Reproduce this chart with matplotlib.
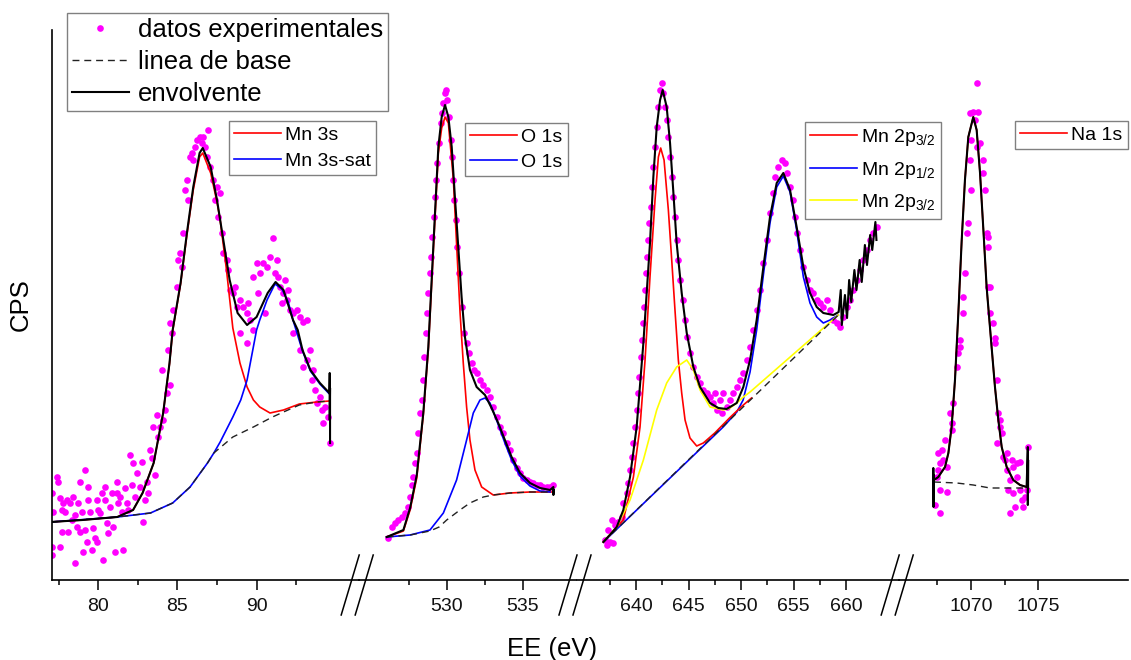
import matplotlib
matplotlib.use('Agg')
import matplotlib.pyplot as plt
from matplotlib.lines import Line2D

plt.rcParams['font.family'] = ['Liberation Sans', 'DejaVu Sans']
plt.rcParams['mathtext.default'] = 'regular'

# ---------------- data (EE in eV, CPS in arbitrary units) ----------------
# Segment 1 : Mn 3s
mn3s_dots = [(77.06,87),(77.16,68),(77.06,33),(77.06,25),(77.37,103),(77.48,98),(77.58,82),(77.69,70),(77.69,48),(77.58,33),
             (77.79,77),(77.90,68),(78.0,80),(78.11,48),(78.21,77),(78.32,60),(78.42,83),(78.53,65),(78.53,17),(78.63,53),
             (78.74,77),(78.85,98),(78.85,48),(78.95,68),(79.06,28),(79.16,110),(79.16,50),(79.27,38),(79.37,93),(79.37,80),
             (79.48,68),(79.58,30),(79.69,52),(79.79,42),(79.90,80),(79.90,38),(80.0,70),(80.11,67),(80.22,87),(80.32,20),
             (80.43,80),(80.43,93),(80.53,57),(80.64,47),(80.74,73),(80.85,87),(80.95,53),(81.06,28),(81.16,98),(81.16,87),
             (81.27,77),(81.37,83),(81.48,68),(81.58,30),(81.69,92),(81.79,77),(81.90,70),(82.0,125),(82.11,95),(82.21,117),
             (82.32,83),(82.42,107),(82.63,93),(82.74,118),(82.85,58),(82.95,80),(83.06,98),(83.16,87),(83.27,130),(83.37,122),
             (83.48,153),(83.58,105),(83.69,165),(83.79,143),(83.90,153),(84.0,210),(84.11,160),(84.21,170),(84.32,187),(84.43,230),
             (84.53,195),(84.64,247),(84.53,257),(84.74,270),(84.95,293),(85.06,320),(85.16,327),(85.27,313),(85.37,347),(85.48,390),
             (85.58,400),(85.69,380),(85.79,423),(85.90,427),(86.0,420),(86.11,433),(86.21,440),(86.42,443),(86.53,437),(86.63,443),
             (86.74,433),(86.95,450),(86.84,423),(87.06,413),(87.27,400),(87.48,393),(87.37,380),(87.58,363),(87.69,387),(87.79,347),
             (87.90,327),(88.11,320),(88.22,310),(88.32,290),(88.53,287),(88.64,293),(88.74,273),(88.95,280),(89.16,273),(89.37,267),
             (89.48,277),(89.58,260),(89.79,303),(90.0,317),(90.11,287),(90.21,307),(90.42,317),(90.53,267),(90.63,313),(90.85,323),
             (91.06,342),(91.16,307),(91.27,320),(91.37,303),(91.48,293),(91.58,277),(91.69,287),(91.79,300),(91.90,280),(92.0,290),
             (92.11,270),(92.32,267),(92.53,270),(92.74,263),(92.95,258),(93.16,260),(92.32,247),(92.74,230),(92.95,213),(93.16,220),
             (93.37,230),(93.48,200),(93.58,210),(93.69,190),(93.79,177),(94.0,183),(94.11,170),(94.21,157),(94.32,173),(94.53,163),
             (94.64,137),(88.95,247),(89.37,237),(89.79,250)]
mn3s_envelope = [(77.0,58),(79.0,60),(81.2,63),(82.2,70),(82.8,87),(83.5,117),(84.1,167),(84.5,217),(84.7,250),(85.2,297),
                 (85.6,347),(86.0,393),(86.4,427),(86.6,432),(87.1,413),(87.5,380),(87.9,340),(88.3,300),(88.8,267),(89.4,255),
                 (90.0,263),(90.7,287),(91.2,298),(91.7,290),(92.3,260),(92.6,250),(92.9,230),(93.4,210),(94.0,197),(94.6,187),
                 (94.62,207),(94.62,160),(94.64,192),(94.64,137)]
mn3s_main = [(77.0,58),(79.0,60),(81.2,63),(82.2,70),(82.8,87),(83.5,117),(84.1,167),(84.5,216),(84.7,249),(85.2,296),
             (85.6,345),(86.0,390),(86.4,423),(86.6,427),(87.1,407),(87.5,378),(87.7,360),(88.1,310),(88.5,252),(88.95,217),
             (89.4,193),(89.8,180),(90.2,173),(90.85,167),(91.7,170),(92.7,176),(93.8,178),(94.6,179)]
mn3s_sat = [(77.0,58),(81.2,63),(83.3,67),(84.7,77),(85.8,93),(86.9,117),(87.3,127),(87.7,138),(88.5,163),(89.0,180),
            (89.4,200),(90.0,250),(90.2,260),(90.66,280),(91.16,296),(91.6,291),(92.0,278),(92.3,260),(92.9,229),(93.4,209),
            (94.0,196),(94.6,186)]
mn3s_base = [(77.0,58),(81.2,63),(83.3,67),(84.7,77),(85.8,93),(86.9,117),(87.3,127),(88.5,143),(89.8,153),(91.0,163),
             (91.7,168),(92.7,175),(93.8,178),(94.6,179)]

# Segment 2 : O 1s
o1s_dots = [(526.16,42),(526.38,53),(526.60,57),(526.82,60),(527.04,63),(527.26,67),(527.48,73),(527.59,83),(527.70,95),(527.81,103),
            (527.92,117),(528.03,127),(528.14,147),(528.24,167),(528.35,180),(528.46,200),(528.53,223),(528.64,247),(528.73,267),(528.79,287),
            (528.90,307),(528.97,323),(529.06,343),(529.17,363),(529.23,383),(529.30,400),(529.39,417),(529.50,437),(529.61,457),(529.67,467),
            (529.78,477),(529.89,487),(529.96,490),(530.04,480),(530.17,463),(530.26,440),(530.33,423),(530.39,400),(530.48,380),(530.59,360),
            (530.70,333),(530.83,307),(530.98,273),(531.13,247),(531.31,237),(531.49,227),(531.64,217),(531.80,210),(531.97,207),(532.19,200),
            (532.41,195),(532.63,190),(532.85,183),(533.06,173),(533.28,163),(533.50,153),(533.72,147),(533.94,137),(534.16,130),(534.38,120),
            (534.60,112),(534.82,107),(535.04,102),(535.26,100),(535.48,98),(535.70,97),(535.92,95),(536.14,95),(536.36,93),(536.58,93),
            (536.80,93),(536.98,95)]
o1s_envelope = [(526.05,43),(527.15,50),(527.59,72),(528.03,105),(528.46,167),(528.79,233),(529.01,300),(529.23,367),(529.45,433),(529.67,463),
                (529.89,475),(530.11,463),(530.33,433),(530.54,383),(530.76,333),(530.98,283),(531.20,243),(531.53,210),(531.97,193),(532.52,185),
                (532.95,172),(533.39,157),(533.83,140),(534.27,123),(534.82,107),(535.48,97),(536.14,92),(536.80,90),(537.02,93),(537.02,85),
                (537.04,90)]
o1s_main = [(526.05,43),(527.15,49),(527.59,70),(528.03,102),(528.46,165),(528.79,230),(529.01,296),(529.23,362),(529.45,427),(529.67,452),
            (529.89,463),(530.11,457),(530.44,400),(530.66,333),(530.88,267),(531.09,217),(531.31,173),(531.53,140),(531.86,110),(532.30,93),
            (533.06,85),(534.16,87),(535.48,88),(536.91,88)]
o1s_second = [(526.05,43),(527.59,45),(528.90,50),(529.78,67),(530.65,100),(531.31,140),(531.75,167),(532.19,180),(532.52,182),(532.85,177),
              (533.28,160),(533.83,137),(534.27,120),(534.82,104),(535.48,94),(536.14,89),(536.80,88)]
o1s_base = [(526.05,43),(527.6,45),(528.9,49),(529.5,53),(530.0,60),(530.87,70),(531.53,77),(532.41,83),(533.06,85),(534.16,87),
            (535.48,88),(536.91,88)]

# Segment 3 : Mn 2p
mn2p_dots = [(637.05,40),(637.21,35),(637.52,38),(637.37,50),(637.68,60),(637.84,37),(638.0,55),(638.32,58),(638.63,63),(638.79,77),
             (639.11,87),(639.27,97),(639.43,110),(639.59,123),(639.75,137),(639.90,153),(640.06,170),(640.22,187),(640.32,203),(640.44,223),
             (640.54,240),(640.63,257),(640.76,273),(640.86,290),(640.95,307),(641.08,323),(641.17,340),(641.27,357),(641.40,373),(641.52,393),
             (641.65,413),(641.81,433),(641.97,453),(642.13,473),(642.29,490),(642.44,497),(642.60,487),(642.76,473),(642.92,460),(643.08,443),
             (643.24,423),(643.40,403),(643.56,383),(643.71,363),(643.87,340),(644.03,320),(644.19,300),(644.44,280),(644.67,260),(644.89,243),
             (645.14,227),(645.46,213),(645.78,203),(646.10,197),(646.41,190),(646.73,187),(647.05,183),(647.37,177),(647.52,187),(647.68,170),
             (648.0,180),(648.16,167),(648.32,187),(648.63,173),(648.95,180),(649.27,187),(649.59,193),(649.90,200),(650.22,207),(650.54,220),
             (650.86,233),(651.17,250),(651.49,270),(651.81,290),(652.13,317),(652.44,340),(652.76,367),(653.02,387),(653.24,403),(653.56,413),
             (653.87,420),(654.19,417),(654.41,407),(654.67,393),(654.92,380),(655.14,363),(655.37,347),(655.62,330),(655.94,313),(656.25,300),
             (656.57,290),(656.89,287),(657.21,280),(657.52,277),(657.84,273),(658.16,280),(658.48,270),(658.79,260),(659.11,257),(659.43,253),
             (659.75,263),(660.06,273),(660.38,280),(660.70,290),(661.02,300),(661.33,310),(661.65,320),(661.97,330),(662.29,340),(662.60,347),
             (662.92,353)]
mn2p_envelope = [(636.89,38),(637.5,45),(638.16,53),(638.79,70),(639.43,103),(640.06,153),(640.70,237),(641.33,337),(641.65,403),(641.97,453),
                 (642.29,480),(642.54,490),(642.92,473),(643.24,437),(643.56,387),(643.87,337),(644.35,287),(644.83,247),(645.46,213),(646.10,193),
                 (647.05,177),(647.84,172),(648.63,171),(649.59,177),(650.22,193),(650.86,220),(651.49,260),(652.13,313),(652.76,363),(653.40,397),
                 (654.03,407),(654.67,390),(655.30,353),(655.94,313),(656.57,287),(657.21,273),(657.84,267),(658.79,265),(659.3,268),(659.5,290),
                 (659.6,255),(659.9,285),(660.1,262),(660.3,300),(660.5,278),(660.8,310),(661.0,290),(661.3,320),(661.5,298),(661.8,335),
                 (662.0,315),(662.3,345),(662.5,330),(662.8,358),(662.9,340)]
mn2p32_main = [(636.89,38),(638.79,60),(639.75,103),(640.38,153),(640.86,220),(641.33,303),(641.81,380),(642.13,423),(642.35,432),(642.67,420),
               (643.08,370),(643.40,320),(643.71,270),(644.03,220),(644.35,187),(644.67,160),(645.14,142),(645.78,134),(646.41,137),(647.5,147),
               (648.9,162),(650.0,173),(651.0,182)]
mn2p12 = [(636.89,38),(648.3,153),(649.6,168),(650.2,180),(650.86,208),(651.49,250),(652.13,305),(652.76,357),(653.40,393),(654.03,404),
          (654.67,388),(655.30,350),(655.94,303),(656.57,277),(657.21,263),(657.84,257),(658.48,260),(659.27,265)]
mn2p32_sat = [(636.89,38),(638.16,53),(639.43,80),(640.70,120),(641.97,170),(642.92,197),(643.87,213),(644.83,220),(645.46,210),(646.10,190),
              (647.05,173),(648.32,170),(648.95,172),(649.59,177),(650.22,183),(650.86,188),(659.27,265)]
mn2p_base = [(636.89,38),(659.27,265)]

# Segment 4 : Na 1s
na1s_dots = [(1070.42,497),(1069.93,467),(1070.17,468),(1070.54,468),(1070.30,460),(1070.0,440),(1070.42,433),(1070.67,437),(1070.92,420),(1069.93,420),
             (1070.0,390),(1069.80,357),(1070.92,407),(1071.04,390),(1071.16,347),(1071.29,343),(1069.68,347),(1069.55,307),(1071.29,333),(1071.29,293),
             (1071.41,293),(1069.43,283),(1069.43,267),(1071.41,267),(1071.66,257),(1069.18,240),(1069.18,233),(1071.78,242),(1069.06,227),(1071.78,237),
             (1071.91,200),(1068.94,213),(1068.69,177),(1068.44,167),(1068.56,157),(1072.03,167),(1072.15,160),(1072.15,153),(1072.28,147),(1071.91,137),
             (1068.56,150),(1068.07,140),(1067.82,130),(1067.57,127),(1067.94,120),(1067.69,117),(1068.19,113),(1067.57,110),(1067.45,103),(1067.69,90),
             (1068.19,88),(1067.33,75),(1067.69,67),(1072.53,120),(1072.65,127),(1073.02,120),(1073.14,113),(1073.39,117),(1073.64,118),(1074.26,133),
             (1072.90,100),(1073.39,103),(1072.78,90),(1073.14,87),(1073.64,90),(1072.90,67),(1073.27,73),(1073.76,80),(1073.89,73),(1074.01,83),
             (1074.13,90),(1072.65,110),(1072.40,123)]
na1s_envelope = [(1067.20,88),(1067.20,112),(1067.22,73),(1067.22,105),(1067.25,100),(1067.57,103),(1068.07,113),(1068.32,127),(1068.56,153),(1068.81,200),
                 (1069.06,267),(1069.31,340),(1069.55,400),(1069.80,443),(1070.17,463),(1070.42,450),(1070.67,407),(1070.92,350),(1071.16,293),(1071.53,233),
                 (1071.78,193),(1072.03,160),(1072.28,133),(1072.65,113),(1073.14,100),(1073.64,95),(1074.13,93),(1074.22,133),(1074.22,75),(1074.24,120),
                 (1074.24,92)]
na1s_main = [(1067.25,100),(1067.57,103),(1068.07,113),(1068.32,127),(1068.56,153),(1068.81,200),(1069.06,267),(1069.31,340),(1069.55,400),(1069.80,443),
             (1070.17,463),(1070.42,450),(1070.67,407),(1070.92,350),(1071.16,293),(1071.53,233),(1071.78,193),(1072.03,160),(1072.28,133),(1072.65,113),
             (1073.14,100),(1073.64,95),(1074.13,93)]
na1s_base = [(1067.25,98),(1068.94,97),(1070.17,95),(1071.41,92),(1072.65,92),(1074.2,92)]

seg_major_ticks = [[80, 85, 90], [530, 535], [640, 645, 650, 655, 660], [1070, 1075]]
seg_minor_ticks = [[77.5, 82.5, 87.5, 92.5], [527.5, 532.5], [637.5, 642.5, 647.5, 652.5, 657.5], [1067.5, 1072.5]]

# ---------------- layout ----------------
W, H = 1131, 660
fig = plt.figure(figsize=(W / 100, H / 100), dpi=100)


def fx(px):
    return px / W


def fy(py):
    return 1 - py / H


AX_BOTTOM, AX_TOP = 580, 30
seg_px = [(51.7, 358.7), (358.7, 576.5), (576.5, 898.7), (898.7, 1128.0)]
seg_xlim = [(77.06, 96.45), (524.21, 538.54), (634.33, 665.02), (1064.63, 1081.66)]
YLIM = (0, 550)

MAG = '#FF00FF'
RED = '#FF0000'
BLUE = '#0000FF'
YEL = '#FFFF00'
MS = 4.8

axes = []
for i, ((p0, p1), xl) in enumerate(zip(seg_px, seg_xlim)):
    ax = fig.add_axes([fx(p0), fy(AX_BOTTOM), (p1 - p0) / W, (AX_BOTTOM - AX_TOP) / H])
    ax.set_xlim(*xl)
    ax.set_ylim(*YLIM)
    ax.patch.set_visible(False)
    for s in ['top', 'right']:
        ax.spines[s].set_visible(False)
    ax.spines['left'].set_visible(i == 0)
    ax.spines['bottom'].set_linewidth(1.2)
    ax.spines['left'].set_linewidth(1.2)
    ax.set_yticks([])
    ax.set_xticks(seg_major_ticks[i])
    ax.set_xticks(seg_minor_ticks[i], minor=True)
    ax.tick_params(axis='x', which='major', direction='out', length=7.2, width=1.1,
                   labelsize=14, pad=6, labelcolor='#111111')
    ax.tick_params(axis='x', which='minor', direction='out', length=3.6, width=1.1)
    axes.append(ax)


def xy(pts):
    return [p[0] for p in pts], [p[1] for p in pts]


def dots(ax, pts):
    x, y = xy(pts)
    return ax.plot(x, y, 'o', color=MAG, ms=MS, mec='none', zorder=1)[0]


def curve(ax, pts, color, lw=1.2, z=2):
    x, y = xy(pts)
    return ax.plot(x, y, color=color, lw=lw, zorder=z, solid_joinstyle='round')[0]


def base(ax, pts):
    x, y = xy(pts)
    return ax.plot(x, y, color='#222222', lw=1.0, dashes=(5, 3.5), zorder=4)[0]


def env(ax, pts):
    x, y = xy(pts)
    return ax.plot(x, y, color='black', lw=1.5, zorder=5, solid_joinstyle='round')[0]


# Segment 1
a = axes[0]
dots(a, mn3s_dots)
h_r1 = curve(a, mn3s_main, RED, z=2)
h_b1 = curve(a, mn3s_sat, BLUE, z=3)
base(a, mn3s_base)
env(a, mn3s_envelope)

# Segment 2
a = axes[1]
dots(a, o1s_dots)
h_r2 = curve(a, o1s_main, RED, z=2)
h_b2 = curve(a, o1s_second, BLUE, z=3)
base(a, o1s_base)
env(a, o1s_envelope)

# Segment 3
a = axes[2]
dots(a, mn2p_dots)
h_b3 = curve(a, mn2p12, BLUE, z=2)
h_r3 = curve(a, mn2p32_main, RED, z=3)
h_y3 = curve(a, mn2p32_sat, YEL, z=3.5)
base(a, mn2p_base)
env(a, mn2p_envelope)

# Segment 4
a = axes[3]
dots(a, na1s_dots)
h_r4 = curve(a, na1s_main, RED, z=2)
base(a, na1s_base)
env(a, na1s_envelope)

# break marks
for c in [358.7, 576.5, 898.7]:
    for cross in (c - 7, c + 7):
        fig.add_artist(Line2D([fx(cross - 10.5), fx(cross + 7.5)], [fy(615), fy(555)],
                              color='black', lw=1.1, transform=fig.transFigure))

# legends
leg_kw = dict(loc='upper left', bbox_transform=fig.transFigure, borderaxespad=0,
              fancybox=False, framealpha=1, edgecolor='#808080')

main_h = [Line2D([], [], ls='none', marker='o', color=MAG, ms=MS, mec='none'),
          Line2D([], [], color='#222222', lw=1.0, dashes=(5, 3.5)),
          Line2D([], [], color='black', lw=1.5)]
lg = fig.legend(main_h, ['datos experimentales', 'linea de base', 'envolvente'],
                bbox_to_anchor=(fx(67), fy(13)), fontsize=18.5, handlelength=2.2,
                handletextpad=0.35, labelspacing=0.3, borderpad=0.2, numpoints=1, **leg_kw)
lg.get_frame().set_linewidth(1.0)

for handles, labels, (px, py), lsp in [
        ([h_r1, h_b1], ['Mn 3s', 'Mn 3s-sat'], (229, 120.7), 0.45),
        ([h_r2, h_b2], ['O 1s', 'O 1s'], (465, 122.7), 0.4),
        ([h_r3, h_b3, h_y3], ['Mn 2p$_{3/2}$', 'Mn 2p$_{1/2}$', 'Mn 2p$_{3/2}$'], (805, 121.7), 0.6),
        ([h_r4], ['Na 1s'], (1015, 120.7), 0.4)]:
    l = fig.legend(handles, labels, bbox_to_anchor=(fx(px), fy(py)), fontsize=14,
                   handlelength=2.4, handletextpad=0.22, labelspacing=lsp, borderpad=0.27, **leg_kw)
    l.get_frame().set_linewidth(1.0)

fig.text(fx(21), fy(305), 'CPS', rotation=90, fontsize=18.5, ha='center', va='center')
fig.text(fx(552), fy(649), 'EE (eV)', fontsize=18.5, ha='center', va='center')

fig.savefig('out.png', dpi=100)
